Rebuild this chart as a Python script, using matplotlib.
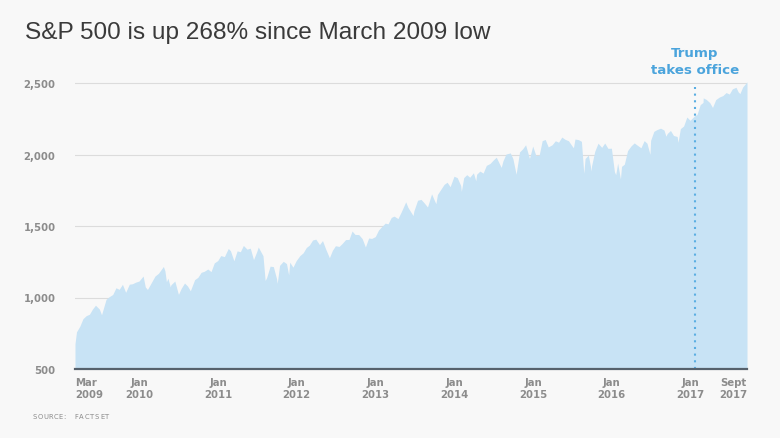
import matplotlib
matplotlib.use("Agg")
import matplotlib.pyplot as plt
from matplotlib import font_manager
import pandas as pd

# S&P 500 close, approx. mid-month / end-of-month readings (plus key swing points)
dates = [
    "2009-03-09", "2009-03-16", "2009-03-31", "2009-04-15", "2009-04-30", "2009-05-15", "2009-05-29",
    "2009-06-12", "2009-06-30", "2009-07-10", "2009-07-31", "2009-08-14", "2009-08-31", "2009-09-15",
    "2009-09-30", "2009-10-15", "2009-10-30", "2009-11-16", "2009-11-30", "2009-12-15", "2009-12-31",
    "2010-01-19", "2010-01-29", "2010-02-08", "2010-02-26", "2010-03-15", "2010-03-31", "2010-04-23",
    "2010-04-30", "2010-05-07", "2010-05-14", "2010-05-25", "2010-05-28", "2010-06-15", "2010-06-30",
    "2010-07-02", "2010-07-15", "2010-07-30", "2010-08-13", "2010-08-26", "2010-09-15", "2010-09-30",
    "2010-10-15", "2010-10-29", "2010-11-15", "2010-11-30", "2010-12-15", "2010-12-31",
    "2011-01-14", "2011-01-31", "2011-02-18", "2011-02-28", "2011-03-16", "2011-03-31", "2011-04-15",
    "2011-04-29", "2011-05-16", "2011-05-31", "2011-06-15", "2011-06-30", "2011-07-07", "2011-07-29",
    "2011-08-08", "2011-08-15", "2011-08-31", "2011-09-15", "2011-09-30", "2011-10-03", "2011-10-14",
    "2011-10-31", "2011-11-15", "2011-11-25", "2011-11-30", "2011-12-15", "2011-12-30",
    "2012-01-16", "2012-01-31", "2012-02-15", "2012-02-29", "2012-03-15", "2012-03-30", "2012-04-16",
    "2012-04-30", "2012-05-15", "2012-06-01", "2012-06-15", "2012-06-29", "2012-07-16", "2012-07-31",
    "2012-08-15", "2012-08-31", "2012-09-14", "2012-09-28", "2012-10-15", "2012-10-31", "2012-11-15",
    "2012-11-30", "2012-12-14", "2012-12-31",
    "2013-01-15", "2013-01-31", "2013-02-15", "2013-02-28", "2013-03-15", "2013-03-28", "2013-04-15",
    "2013-04-30", "2013-05-21", "2013-05-31", "2013-06-24", "2013-06-28", "2013-07-15", "2013-07-31",
    "2013-08-15", "2013-08-30", "2013-09-18", "2013-09-30", "2013-10-08", "2013-10-15", "2013-10-31",
    "2013-11-15", "2013-11-29", "2013-12-13", "2013-12-31",
    "2014-01-15", "2014-01-31", "2014-02-03", "2014-02-14", "2014-02-28", "2014-03-14", "2014-03-31",
    "2014-04-11", "2014-04-15", "2014-04-30", "2014-05-15", "2014-05-30", "2014-06-16", "2014-06-30",
    "2014-07-15", "2014-07-31", "2014-08-07", "2014-08-15", "2014-08-29", "2014-09-18", "2014-09-30",
    "2014-10-15", "2014-10-31", "2014-11-14", "2014-11-28", "2014-12-16", "2014-12-31",
    "2015-01-15", "2015-01-30", "2015-02-13", "2015-02-27", "2015-03-13", "2015-03-31", "2015-04-15",
    "2015-04-30", "2015-05-15", "2015-05-29", "2015-06-15", "2015-06-30", "2015-07-08", "2015-07-15",
    "2015-07-31", "2015-08-14", "2015-08-25", "2015-08-31", "2015-09-15", "2015-09-29", "2015-09-30",
    "2015-10-15", "2015-10-30", "2015-11-16", "2015-11-30", "2015-12-15", "2015-12-31",
    "2016-01-14", "2016-01-20", "2016-01-29", "2016-02-11", "2016-02-16", "2016-02-29", "2016-03-15",
    "2016-03-31", "2016-04-15", "2016-04-29", "2016-05-16", "2016-05-31", "2016-06-13", "2016-06-27",
    "2016-06-30", "2016-07-15", "2016-07-29", "2016-08-15", "2016-08-31", "2016-09-09", "2016-09-15",
    "2016-09-30", "2016-10-14", "2016-10-31", "2016-11-04", "2016-11-15", "2016-11-30", "2016-12-15",
    "2016-12-30",
    "2017-01-20", "2017-01-31", "2017-02-15", "2017-02-28", "2017-03-01", "2017-03-15", "2017-03-31",
    "2017-04-13", "2017-04-28", "2017-05-15", "2017-05-31", "2017-06-15", "2017-06-30", "2017-07-14",
    "2017-07-31", "2017-08-10", "2017-08-18", "2017-08-31", "2017-09-20",
]
closes = [
    677, 760, 798, 852, 873, 883, 919,
    946, 919, 879, 987, 1005, 1021, 1068,
    1057, 1092, 1036, 1093, 1096, 1107, 1115,
    1150, 1074, 1056, 1104, 1150, 1169, 1217,
    1187, 1110, 1135, 1074, 1089, 1115, 1031,
    1022, 1065, 1101, 1080, 1047, 1125, 1141,
    1176, 1183, 1199, 1181, 1242, 1258,
    1293, 1286, 1343, 1327, 1257, 1326, 1320,
    1364, 1338, 1345, 1265, 1321, 1353, 1292,
    1119, 1140, 1219, 1216, 1131, 1099, 1225,
    1253, 1237, 1158, 1247, 1212, 1258,
    1293, 1312, 1350, 1366, 1402, 1408, 1370,
    1398, 1338, 1278, 1330, 1362, 1357, 1379,
    1405, 1406, 1465, 1441, 1440, 1412, 1353,
    1416, 1413, 1426,
    1472, 1498, 1520, 1515, 1560, 1569, 1552,
    1598, 1669, 1631, 1573, 1606, 1680, 1686,
    1661, 1633, 1725, 1682, 1656, 1720, 1757,
    1791, 1806, 1775, 1848,
    1838, 1783, 1742, 1838, 1859, 1841, 1872,
    1816, 1862, 1884, 1870, 1924, 1937, 1960,
    1981, 1931, 1910, 1955, 2003, 2011, 1972,
    1862, 2018, 2039, 2068, 1972, 2059,
    1992, 1995, 2097, 2105, 2053, 2068, 2096,
    2086, 2122, 2107, 2096, 2063, 2047, 2108,
    2104, 2092, 1868, 1972, 1996, 1884, 1920,
    2023, 2079, 2050, 2080, 2043, 2044,
    1880, 1859, 1940, 1829, 1917, 1932, 2027,
    2060, 2081, 2065, 2047, 2097, 2079, 2001,
    2099, 2162, 2174, 2184, 2171, 2128, 2147,
    2168, 2133, 2126, 2085, 2181, 2199, 2262,
    2239,
    2271, 2279, 2349, 2364, 2396, 2385, 2363,
    2329, 2384, 2402, 2412, 2433, 2423, 2459,
    2470, 2438, 2426, 2472, 2508,
]

tick_dates = ["2009-03-09", "2010-01-01", "2011-01-01", "2012-01-01", "2013-01-01",
              "2014-01-01", "2015-01-01", "2016-01-01", "2017-01-01", "2017-09-20"]
tick_labels = ["Mar\n2009", "Jan\n2010", "Jan\n2011", "Jan\n2012", "Jan\n2013",
               "Jan\n2014", "Jan\n2015", "Jan\n2016", "Jan\n2017", "Sept\n2017"]
y_ticks = [500, 1000, 1500, 2000, 2500]
y_labels = ["500", "1,000", "1,500", "2,000", "2,500"]
trump_date = "2017-01-20"

bg = "#f8f8f8"
fill_col = "#c8e3f5"
label_col = "#8c8c8c"
blue = "#4ba4dc"

# condensed bold face for the axis labels
cond = font_manager.FontProperties(family="DejaVu Sans", stretch="condensed",
                                   weight="bold", size=8.1)

W, H = 780, 439
fig = plt.figure(figsize=(W / 100, H / 100), dpi=100, facecolor=bg)
ymin, ymax = 500, 2520
px_per_unit = 286 / 2000
ax_h = (ymax - ymin) * px_per_unit
ax = fig.add_axes([75 / W, (H - 370) / H, (747 - 75) / W, ax_h / H])
ax.set_facecolor(bg)

x = pd.to_datetime(dates)
ax.fill_between(x, ymin, closes, color=fill_col, lw=0, zorder=2)
ax.set_ylim(ymin, ymax)
ax.set_xlim(pd.Timestamp(dates[0]), pd.Timestamp(dates[-1]))

for v in y_ticks[1:]:
    ax.axhline(v, color="#dcdcdc", lw=0.8, zorder=1)
ax.axhline(ymin, color="#56616c", lw=1.6, zorder=4, clip_on=False)

for s in ax.spines.values():
    s.set_visible(False)

ax.set_yticks(y_ticks)
ax.set_yticklabels(y_labels, fontproperties=cond, color=label_col)
ax.tick_params(axis="y", length=0, pad=14)

ax.set_xticks(pd.to_datetime(tick_dates))
ax.set_xticklabels(tick_labels, fontproperties=cond, color=label_col, linespacing=1.25)
ax.tick_params(axis="x", length=0, pad=6)
xl = ax.get_xticklabels()
xl[0].set_ha("left")
xl[-1].set_ha("right")

# Trump marker
td = pd.Timestamp(trump_date)
ax.plot([td, td], [500, 2475], color="#5aaee2", lw=1.5, ls=(0, (1, 2.2)), zorder=3)
fig.text(695 / W, 1 - 62 / H, "Trump\ntakes office", ha="center", va="center",
         fontsize=9.6, fontweight="bold", color=blue, linespacing=1.3)

fig.text(25 / W, 1 - 33 / H, "S&P 500 is up 268% since March 2009 low",
         family=["Liberation Sans", "DejaVu Sans"], fontsize=17.6, color="#3a3a3a",
         va="center", ha="left")

# letter-spaced source line
src = "SOURCE: FACTSET"
for i, ch in enumerate(src):
    fig.text((32.5 + i * 5.2) / W, 1 - 417 / H, ch, fontsize=4.9, color="#8a8a8a",
             va="center", ha="left", fontstretch="expanded")

fig.savefig("out.png", dpi=100, facecolor=bg)
